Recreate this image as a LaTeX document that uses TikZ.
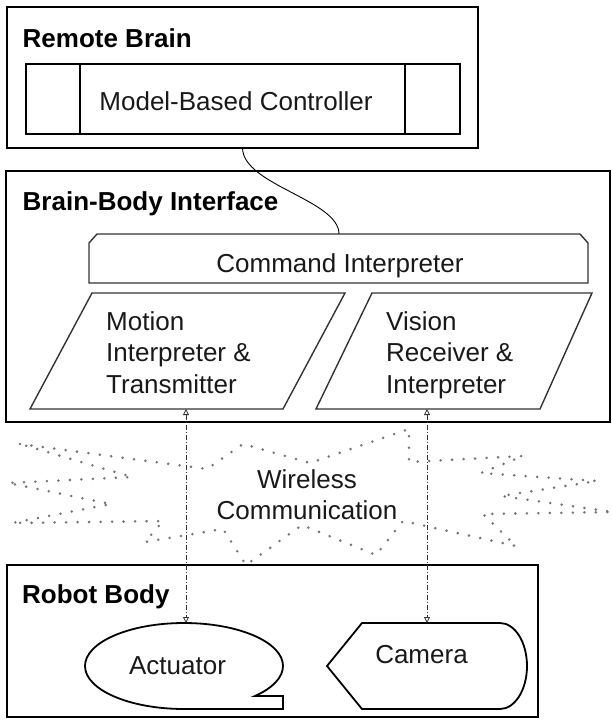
\documentclass[tikz,border=0pt]{standalone}
\usepackage{fontspec}
\setmainfont{Liberation Sans}
\usetikzlibrary{arrows.meta}
\begin{document}
\begin{tikzpicture}[x=1pt,y=-1pt,
  bigbox/.style={draw=black, line width=2.4pt, inner sep=0pt, outer sep=0pt},
  inbox/.style={draw=black, line width=1.8pt, inner sep=0pt, outer sep=0pt},
  thinshape/.style={draw=black!80, line width=1.4pt, line join=miter},
  titletext/.style={font=\bfseries\fontsize{26}{31.5}\selectfont, anchor=base west, inner sep=0pt},
  lbl/.style={font=\fontsize{26}{31.5}\selectfont, inner sep=0pt, text=black!90},
  dots/.style={draw=black!55, line width=2.8pt, line cap=round, dash pattern=on 0pt off 11.5pt},
  wire/.style={draw=black, line width=0.9pt},
  link/.style={draw=black!80, line width=0.8pt, dash pattern=on 5pt off 2pt on 1pt off 2pt,
    arrows={Triangle[open,length=6pt,width=6pt]-Triangle[open,length=6pt,width=6pt]}}
]
\useasboundingbox (0,0) rectangle (611,720);

% wireless star
\draw[dots] (20,444) -- (207,469) -- (243,444) -- (310,463) -- (409,429) -- (409,462)
  -- (523,456) -- (481,473) -- (597,481) -- (501,496) -- (613,512) -- (483,514)
  -- (516,546) -- (403,521) -- (376,555) -- (302,525) -- (246,565) -- (223,529)
  -- (145,542) -- (163,521) -- (12,523) -- (111,504) -- (8,483) -- (132,477) -- cycle;
\node[lbl, align=center, anchor=north] (wireless) at (307,469) {Wireless\\Communication};

% Remote Brain
\node[bigbox, minimum width=471pt, minimum height=141pt] (remote) at (242.5,77.5) {};
\node[titletext] (remotetitle) at (22.5,47) {Remote Brain};
\node[inbox, minimum width=434pt, minimum height=70pt] (mbc) at (243,99) {};
\draw[inbox] (80,64) -- (80,134);
\draw[inbox] (405,64) -- (405,134);
\node[lbl, anchor=base] (mbctext) at (236,110) {Model-Based Controller};

% Brain-Body Interface
\node[bigbox, minimum width=604pt, minimum height=251pt] (bbi) at (308,296.5) {};
\node[titletext] (bbititle) at (22.5,210) {Brain-Body Interface};
\draw[thinshape] (89,283) -- (89,243) -- (97,234) -- (580,234) -- (588,243) -- (588,283) -- cycle;
\coordinate (cmdtop) at (339,234);
\node[lbl, anchor=base] (cmd) at (340,272) {Command Interpreter};
\draw[thinshape] (92,293) -- (345,293) -- (283,409) -- (30,409) -- cycle;
\node[lbl, align=left, anchor=north west] (motion) at (106,311) {Motion\\Interpreter \&\\Transmitter};
\draw[thinshape] (372,293) -- (592,293) -- (540,409) -- (316,409) -- cycle;
\node[lbl, align=left, anchor=north west] (vision) at (386,311) {Vision\\Receiver \&\\Interpreter};
\coordinate (motionbot) at (186,409);
\coordinate (visionbot) at (427,409);

% Robot Body
\node[bigbox, minimum width=531pt, minimum height=152pt] (robot) at (272.5,641) {};
\node[titletext] (robottitle) at (22,603) {Robot Body};
\draw[inbox] (184,709) arc[start angle=90, end angle=404.3, x radius=99, y radius=43]
  -- (283,696) -- (283,709) -- cycle;
\coordinate (acttop) at (186,623);
\node[lbl, anchor=base] (actuator) at (177.5,674) {Actuator};
\draw[inbox] (327,666) -- (362,623) -- (500,623) arc[start angle=-90, end angle=90, x radius=27, y radius=43]
  -- (362,709) -- cycle;
\coordinate (camtop) at (427,623);
\node[lbl, anchor=base] (camera) at (421.5,663) {Camera};

% connectors
\draw[wire] (remote.south) .. controls (243,185) and (339,200) .. (cmdtop);
\draw[link] (motionbot) -- (acttop);
\draw[link] (visionbot) -- (camtop);
\end{tikzpicture}
\end{document}
